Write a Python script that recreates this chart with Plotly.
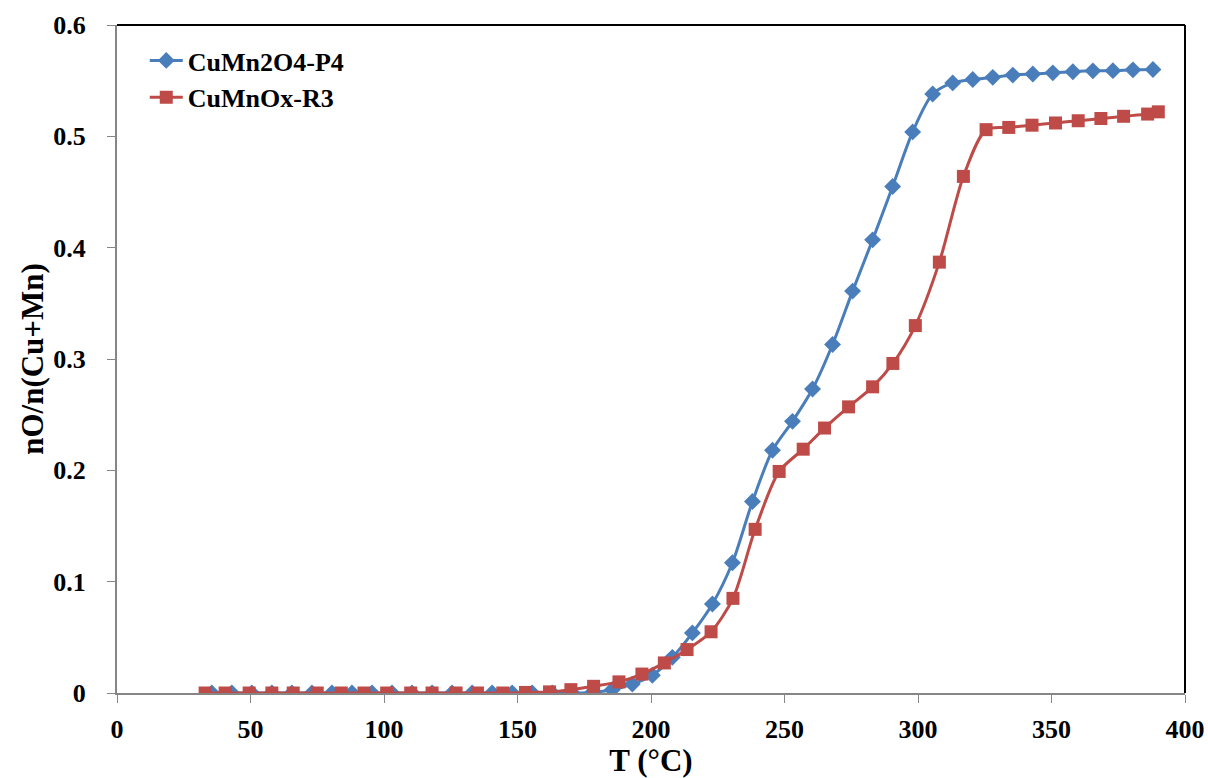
import plotly.graph_objects as go

# Data
t_p4 = [35.5, 43, 50.5, 58, 65.5, 73, 80.5, 88, 95.5, 103, 110.5, 118, 125.5, 133, 140.5,
        148, 155.5, 163, 170.5, 178, 185.5, 193, 200.5, 208, 215.5, 223, 230.5, 238, 245.5,
        253, 260.5, 268, 275.5, 283, 290.5, 298, 305.5, 313, 320.5, 328, 335.5, 343, 350.5,
        358, 365.5, 373, 380.5, 388]
y_p4 = [0, 0, 0, 0, 0, 0, 0, 0, 0, 0, 0, 0, 0, 0, 0,
        0, 0, 0, 0, 0.0005, 0.003, 0.008, 0.016, 0.032, 0.054, 0.080, 0.117, 0.172, 0.218,
        0.244, 0.273, 0.313, 0.361, 0.407, 0.455, 0.504, 0.538, 0.548, 0.551, 0.553, 0.555, 0.556, 0.557,
        0.558, 0.5588, 0.559, 0.5597, 0.560]

t_r3 = [33, 40.5, 49.5, 58, 66, 75, 84, 92.5, 101, 110, 118, 127, 135, 144.5, 153, 162,
        170, 178.5, 188, 196.6, 205, 213.5, 222.5, 230.7, 239, 248, 257, 265, 274, 283,
        290.6, 299, 308, 317, 325.5, 334, 342.7, 351.5, 360, 368.5, 377, 386, 390]
y_r3 = [0, 0, 0, 0, 0, 0, 0, 0, 0, 0, 0, 0, 0, 0, 0.0005, 0.001,
        0.003, 0.006, 0.010, 0.017, 0.027, 0.039, 0.055, 0.085, 0.147, 0.199, 0.219, 0.238, 0.257, 0.275,
        0.296, 0.330, 0.387, 0.464, 0.506, 0.508, 0.510, 0.512, 0.514, 0.516, 0.518, 0.520, 0.522]

x_ticks = [0, 50, 100, 150, 200, 250, 300, 350, 400]
y_ticks = [0, 0.1, 0.2, 0.3, 0.4, 0.5, 0.6]
y_tick_text = ["0", "0.1", "0.2", "0.3", "0.4", "0.5", "0.6"]

FONT = "Liberation Serif"
BLUE = "#4A7EBB"
RED = "#BE4B48"
AXIS_GRAY = "#868686"

fig = go.Figure()
fig.add_trace(go.Scatter(
    x=t_p4, y=y_p4, name="CuMn2O4-P4", mode="lines+markers",
    line=dict(color=BLUE, width=3, shape="spline", smoothing=0.8),
    marker=dict(symbol="diamond", size=13, color=BLUE),
))
fig.add_trace(go.Scatter(
    x=t_r3, y=y_r3, name="CuMnOx-R3", mode="lines+markers",
    line=dict(color=RED, width=3, shape="spline", smoothing=0.8),
    marker=dict(symbol="square", size=13, color=RED),
))

tick_font = dict(family=FONT, size=26, color="black", weight="bold")
title_font = dict(family=FONT, size=31, color="black", weight="bold")

fig.update_layout(
    width=1208, height=778,
    margin=dict(l=117, r=23, t=25, b=85),
    paper_bgcolor="white", plot_bgcolor="white",
    font=dict(family=FONT, size=20, color="black"),
    showlegend=True,
    legend=dict(x=0.026, y=0.982, xanchor="left", yanchor="top",
                bgcolor="rgba(0,0,0,0)",
                font=dict(family=FONT, size=26, color="black", weight="bold"),
                itemwidth=33, tracegroupgap=0),
    xaxis=dict(
        range=[0, 400], tickvals=x_ticks, ticktext=[str(v) for v in x_ticks],
        showgrid=False, zeroline=False, automargin=False,
        showline=True, linecolor=AXIS_GRAY, linewidth=2, mirror=False,
        ticks="outside", ticklen=8, tickcolor=AXIS_GRAY, tickwidth=1,
        tickfont=tick_font, ticklabelstandoff=4,
        title=dict(text="T (°C)", font=title_font, standoff=20),
    ),
    yaxis=dict(
        range=[0, 0.6], tickvals=y_ticks, ticktext=y_tick_text,
        showgrid=False, zeroline=False, automargin=False,
        showline=True, linecolor=AXIS_GRAY, linewidth=2, mirror=False,
        ticks="outside", ticklen=8, tickcolor=AXIS_GRAY, tickwidth=1,
        tickfont=tick_font, ticklabelstandoff=16,
        title=dict(text="nO/n(Cu+Mn)", font=title_font, standoff=0),
    ),
    shapes=[
        dict(type="line", xref="paper", yref="paper", x0=0, x1=1, y0=1, y1=1,
             line=dict(color="black", width=2), layer="above"),
        dict(type="line", xref="paper", yref="paper", x0=1, x1=1, y0=0, y1=1,
             line=dict(color="black", width=2), layer="above"),
    ],
)

fig.write_html(
    "out.html",
    config={"displayModeBar": False},
    post_script="document.body.style.margin='0';document.body.style.overflow='hidden';",
)
